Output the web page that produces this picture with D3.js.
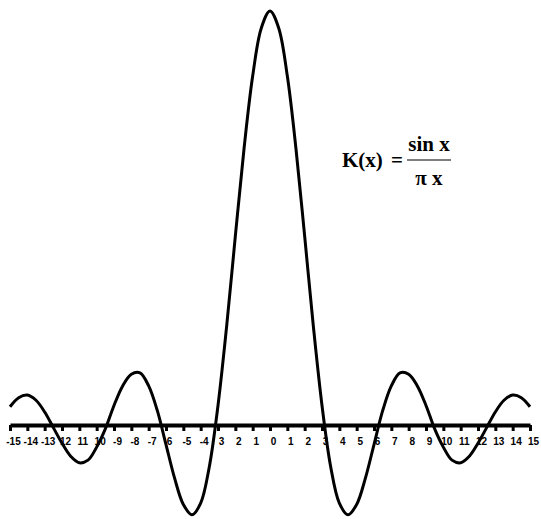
<!DOCTYPE html>
<html>
<head>
<meta charset="utf-8">
<script src="https://d3js.org/d3.v7.min.js"></script>
<style>
  body { margin: 0; background: #fff; }
  svg { display: block; }
</style>
</head>
<body>
<div id="chart"></div>
<script>
// sample points (x, K(x)), every half unit
var xs = [-15, -14.5, -14, -13.5, -13, -12.5, -12, -11.5, -11, -10.5,
          -10, -9.5, -9, -8.5, -8, -7.5, -7, -6.5, -6, -5.5,
          -5, -4.5, -4, -3.5, -3, -2.5, -2, -1.5, -1, -0.5,
          0, 0.5, 1, 1.5, 2, 2.5, 3, 3.5, 4, 4.5,
          5, 5.5, 6, 6.5, 7, 7.5, 8, 8.5, 9, 9.5,
          10, 10.5, 11, 11.5, 12, 12.5, 13, 13.5, 14, 14.5, 15];
var ks = [0.014, 0.021, 0.023, 0.019, 0.010, -0.002, -0.014, -0.024, -0.029, -0.027,
          -0.017, -0.003, 0.015, 0.030, 0.039, 0.040, 0.030, 0.011, -0.015, -0.041,
          -0.061, -0.069, -0.060, -0.032, 0.015, 0.076, 0.145, 0.212, 0.268, 0.305,
          0.318, 0.305, 0.268, 0.212, 0.145, 0.076, 0.015, -0.032, -0.060, -0.069,
          -0.061, -0.041, -0.015, 0.011, 0.030, 0.040, 0.039, 0.030, 0.015, -0.003,
          -0.017, -0.027, -0.029, -0.024, -0.014, -0.002, 0.010, 0.019, 0.023, 0.021, 0.014];

// axis ticks and their labels as printed (some minus signs lost in the print)
var tickValues = d3.range(-15, 16);
var tickLabels = ["-15", "-14", "-13", "12", "11", "10", "-9", "-8", "-7", "6",
                  "-5", "-4", "3", "2", "1", "0", "1", "2", "3", "4",
                  "5", "6", "7", "8", "9", "10", "11", "12", "13", "14", "15"];

var width = 541, height = 519;

var svg = d3.select("#chart").append("svg")
  .attr("width", width)
  .attr("height", height);

var x = d3.scaleLinear().domain([-15, 15]).range([10, 530]);
var y = d3.scaleLinear().domain([0, 0.318]).range([425, 11]);

// axis
var axis = d3.axisBottom(x)
  .tickValues(tickValues)
  .tickSize(6)
  .tickSizeOuter(0)
  .tickFormat(function(d, i) { return tickLabels[i]; });

var gx = svg.append("g")
  .attr("transform", "translate(0," + y(0) + ")")
  .call(axis);

gx.select(".domain")
  .attr("stroke", "#000")
  .attr("stroke-width", 4);
gx.selectAll(".tick line")
  .attr("stroke", "#000")
  .attr("stroke-width", 3);
gx.selectAll(".tick text")
  .attr("y", 13)
  .attr("dy", "0.71em")
  .attr("dx", 3)
  .attr("fill", "#000")
  .style("font-family", "'Liberation Sans', Arial, sans-serif")
  .style("font-weight", "bold")
  .style("font-size", "10px");

// curve
var line = d3.line()
  .x(function(d, i) { return x(xs[i]); })
  .y(function(d) { return y(d); })
  .curve(d3.curveCatmullRom);

svg.append("path")
  .datum(ks)
  .attr("fill", "none")
  .attr("stroke", "#000")
  .attr("stroke-width", 3)
  .attr("stroke-linejoin", "round")
  .attr("d", line);

// formula
var f = svg.append("g")
  .style("font-family", "'Liberation Serif', 'Times New Roman', serif")
  .style("font-size", "21px")
  .style("font-weight", "bold")
  .attr("fill", "#000");

f.append("text").attr("x", 342).attr("y", 167).text("K(x)");
f.append("text").attr("x", 397).attr("y", 167).attr("text-anchor", "middle").text("=");
f.append("text").attr("x", 429).attr("y", 151).attr("text-anchor", "middle").text("sin x");
f.append("line")
  .attr("x1", 407).attr("x2", 451)
  .attr("y1", 160).attr("y2", 160)
  .attr("stroke", "#000")
  .attr("stroke-width", 1.2);
f.append("text").attr("x", 429).attr("y", 185).attr("text-anchor", "middle").text("\u03c0 x");
</script>
</body>
</html>
